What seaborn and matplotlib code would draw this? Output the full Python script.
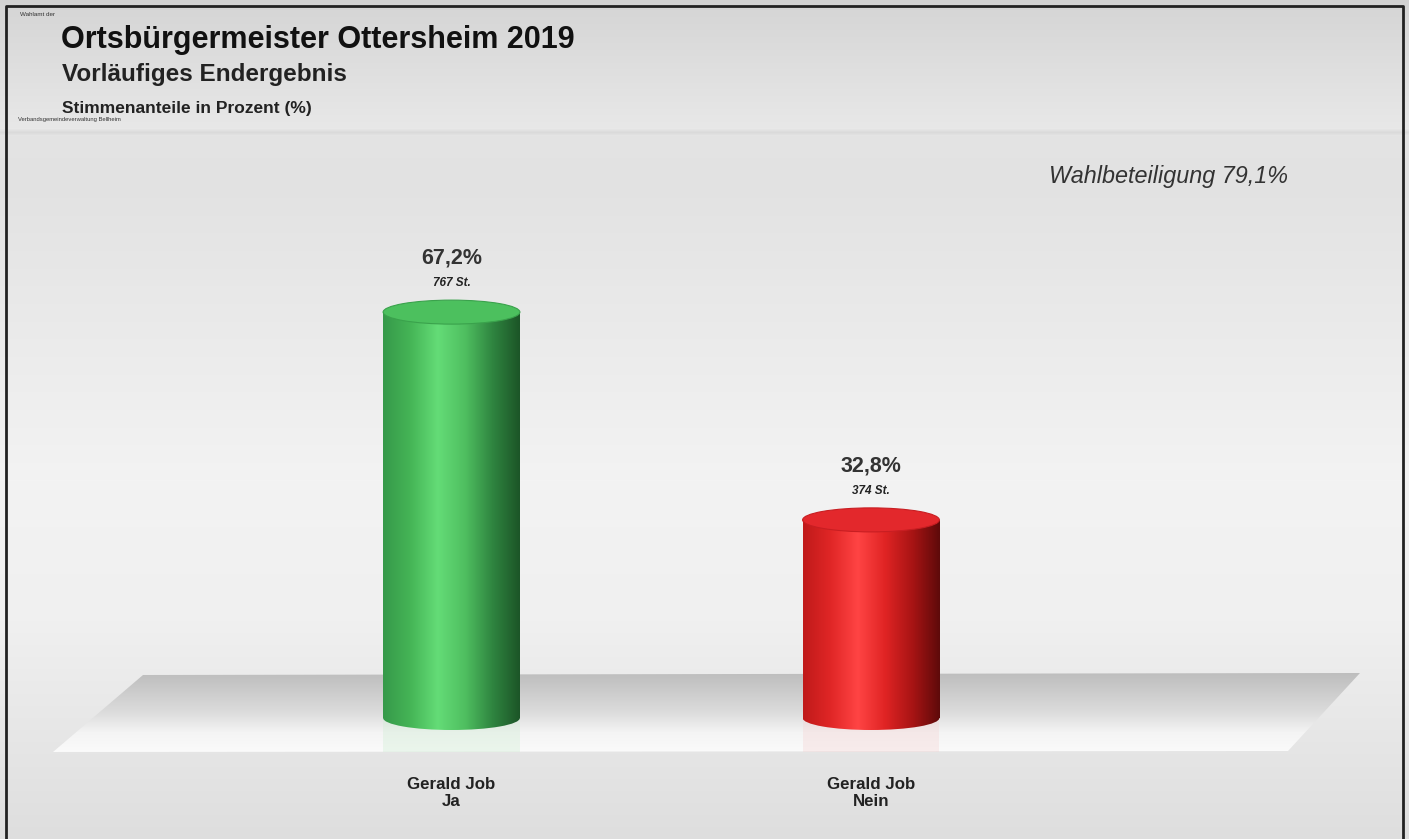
import numpy as np
import matplotlib
matplotlib.use("Agg")
import matplotlib.pyplot as plt
import seaborn as sns
from matplotlib.colors import LinearSegmentedColormap, to_rgb
from matplotlib.patches import Ellipse, Polygon, Rectangle

# ---------------- data ----------------
categories = ["Gerald Job\nJa", "Gerald Job\nNein"]
percent = [67.2, 32.8]
votes = [767, 374]
turnout = 79.1
title = "Ortsbürgermeister Ottersheim 2019"
subtitle = "Vorläufiges Endergebnis"
subsubtitle = "Stimmenanteile in Prozent (%)"
source_top = "Wahlamt der"
source_bottom = "Verbandsgemeindeverwaltung Bellheim"

# ---------------- styles ----------------
sns.set_theme(style="white")
plt.rcParams['font.family'] = ['Liberation Sans', 'DejaVu Sans']
W, H = 1409, 839
fig = plt.figure(figsize=(W / 100, H / 100), dpi=100)

# background axes in pixel coordinates
bg = fig.add_axes([0, 0, 1, 1], zorder=0)
bg.set_xlim(0, W)
bg.set_ylim(H, 0)
bg.axis("off")

def vgrad(stops, n=H):
    ys = np.arange(n)
    pos = [s[0] for s in stops]
    cols = np.array([to_rgb(s[1]) for s in stops])
    out = np.zeros((n, 1, 3))
    for c in range(3):
        out[:, 0, c] = np.interp(ys, pos, cols[:, c])
    return out

bg_img = vgrad([(0, "#d2d2d2"), (10, "#d6d6d6"), (128, "#e8e8e8"), (132, "#dadada"),
                (135, "#e4e4e4"), (180, "#e2e2e2"), (480, "#f3f3f3"), (620, "#f0f0f0"),
                (839, "#dedede")])
bg.imshow(bg_img, extent=(0, W, H, 0), aspect="auto", zorder=0)

# floor (parallelogram with gradient)
floor = Polygon([(143, 675), (1360, 673), (1288, 751), (53, 752)], closed=True,
                facecolor="none", edgecolor="none")
bg.add_patch(floor)
fl_img = vgrad([(0, "#bdbdbd"), (40, "#dcdcdc"), (60, "#f4f4f4"), (80, "#fbfbfb")], n=80)
im = bg.imshow(fl_img, extent=(0, W, 752, 672), aspect="auto", zorder=1)
im.set_clip_path(floor)

# frame
bg.plot([6, 6, 1403, 1403], [839, 6, 6, 839], color="#222222", lw=2, zorder=5)

# header texts
fig.text(20 / W, 1 - 14 / H, source_top, fontsize=4.5, color="#333333", va="center")
fig.text(61 / W, 1 - 40 / H, title, fontsize=22, fontweight="bold", color="#111111", va="center")
fig.text(62 / W, 1 - 75 / H, subtitle, fontsize=17.5, fontweight="bold", color="#222222", va="center")
fig.text(62 / W, 1 - 108 / H, subsubtitle, fontsize=12.5, fontweight="bold", color="#222222", va="center")
fig.text(18 / W, 1 - 119 / H, source_bottom, fontsize=4.2, color="#333333", va="center")
fig.text(1288 / W, 1 - 176 / H, f"Wahlbeteiligung {turnout:.1f}%".replace(".", ","),
         fontsize=16.8, fontstyle="italic", color="#333333", va="center", ha="right")

# ---------------- bars ----------------
base_px = 718
px_per_unit = 6.04
y_lo, y_hi = -8, 100
ax_bottom_px = base_px - y_lo * px_per_unit
ax = fig.add_axes([0, 1 - ax_bottom_px / H, 1, (y_hi - y_lo) * px_per_unit / H], zorder=2)
ax.patch.set_alpha(0)

palette = ["#3fae50", "#d82222"]
sns.barplot(x=categories, y=percent, hue=categories, palette=palette, legend=False,
            width=0.326, ax=ax, saturation=1)
ax.set_ylim(y_lo, y_hi)
ax.set_xlim(-451.5 / 419.5, (W - 451.5) / 419.5)
sns.despine(ax=ax, left=True, bottom=True)
ax.set_yticks([])
ax.set_ylabel("")
ax.set_xlabel("")
ax.tick_params(axis="x", length=0, pad=7.5)
for lab in ax.get_xticklabels():
    lab.set_fontweight("bold")
    lab.set_fontsize(12.2)
    lab.set_color("#222222")
    lab.set_linespacing(1.2)

cmaps = [
    LinearSegmentedColormap.from_list("g", ["#36994a", "#45b556", "#64dc77", "#4fbf60", "#2f8540", "#1c5527"]),
    LinearSegmentedColormap.from_list("r", ["#c01a1a", "#e02626", "#ff4444", "#e02424", "#a81414", "#5e0a0a"]),
]
tops = ["#4cc05e", "#e3282c"]
top_edges = ["#3aa24c", "#c81e22"]
reflect = ["#cdeed2", "#f5d2d2"]
ell_h = 24 / px_per_unit
grad = np.linspace(0, 1, 256).reshape(1, -1)

for i, p in enumerate(list(ax.patches)[:len(percent)]):
    x0, w, h = p.get_x(), p.get_width(), p.get_height()
    xc = x0 + w / 2
    p.set_alpha(0)
    # faint reflection on the floor
    ax.add_patch(Rectangle((x0, -34 / px_per_unit), w, 34 / px_per_unit, facecolor=reflect[i],
                           edgecolor="none", alpha=0.35, zorder=2, clip_on=False))
    # body gradient clipped to rectangle + bottom ellipse
    rect = Rectangle((x0, 0), w, h, transform=ax.transData, facecolor="none", edgecolor="none")
    ax.add_patch(rect)
    bot = Ellipse((xc, 0), w, ell_h, transform=ax.transData, facecolor="none", edgecolor="none")
    ax.add_patch(bot)
    for clip in (rect, bot):
        gi = ax.imshow(grad, cmap=cmaps[i], extent=(x0, x0 + w, -ell_h, h), aspect="auto",
                       zorder=3, interpolation="bilinear")
        gi.set_clip_path(clip)
    # top ellipse
    ax.add_patch(Ellipse((xc, h), w, ell_h, facecolor=tops[i], edgecolor=top_edges[i],
                         lw=0.8, zorder=4))
    # labels
    ax.annotate(f"{percent[i]:.1f}%".replace(".", ","), (xc, h), xytext=(0, 39),
                textcoords="offset points", ha="center", va="center",
                fontsize=15.5, fontweight="bold", color="#333333", zorder=5)
    ax.annotate(f"{votes[i]} St.", (xc, h), xytext=(0, 21),
                textcoords="offset points", ha="center", va="center",
                fontsize=8.5, fontweight="bold", fontstyle="italic", color="#222222", zorder=5)

ax.set_xlim(-451.5 / 419.5, (W - 451.5) / 419.5)
ax.set_ylim(y_lo, y_hi)

fig.savefig("out.png", dpi=100)
